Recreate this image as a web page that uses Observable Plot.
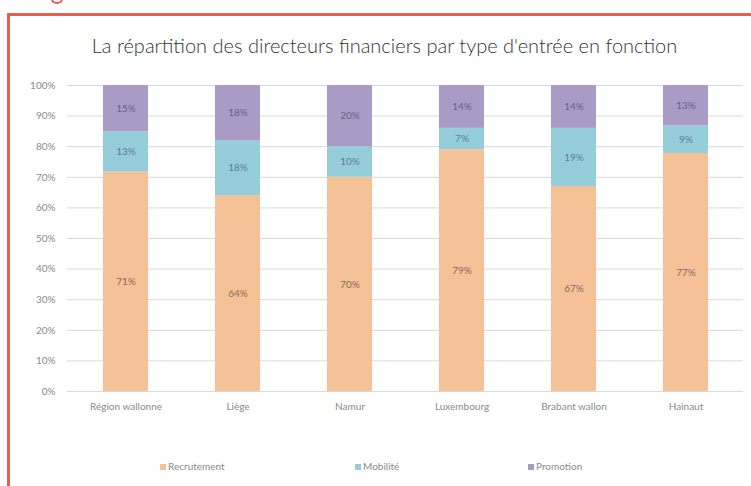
<!DOCTYPE html>
<html>
<head>
<meta charset="utf-8">
<script src="https://cdn.jsdelivr.net/npm/d3@7"></script>
<script src="https://cdn.jsdelivr.net/npm/@observablehq/plot@0.6"></script>
<style>
  html, body { margin: 0; padding: 0; background: #fff; }
  #wrap { position: relative; width: 751px; height: 486px; overflow: hidden; font-family: Lato, "Open Sans", sans-serif; }
  #frame { position: absolute; left: 7px; top: 13px; width: 760px; height: 490px; border-top: 3px solid #e8604c; border-left: 3px solid #e8604c; }
  #title { position: absolute; top: 33px; left: 0; width: 769px; text-align: center; font-size: 20px; font-weight: 300; color: #333; }
  #chart { position: absolute; left: 0; top: 0; }
  #legend { position: absolute; top: 460px; left: 0; width: 751px; font-size: 10px; color: #8a8a8a; }
  .item { position: absolute; white-space: nowrap; }
  .sw { display: inline-block; width: 6px; height: 6px; margin-right: 2px; vertical-align: 0px; }
  #redbit { position: absolute; left: 51px; top: -6px; width: 8px; height: 6px; border: 2px solid #e8604c; border-radius: 50%; border-top-color: transparent; }
</style>
</head>
<body>
<div id="wrap">
  <div id="redbit"></div>
  <div id="frame"></div>
  <div id="title">La répartition des directeurs financiers par type d'entrée en fonction</div>
  <div id="chart"></div>
  <div id="legend"></div>
</div>
<script>
const regions = ["Région wallonne", "Liège", "Namur", "Luxembourg", "Brabant wallon", "Hainaut"];
const series = ["Recrutement", "Mobilité", "Promotion"];
const recrutement = [71, 64, 70, 79, 67, 77];
const mobilite = [13, 18, 10, 7, 19, 9];
const promotion = [15, 18, 20, 14, 14, 13];
const colors = ["#f5c197", "#95cddb", "#a99bc5"];
const labelColors = ["#8a6a55", "#5a7f8c", "#6a5f7f"];
const yTicks = [0, 0.1, 0.2, 0.3, 0.4, 0.5, 0.6, 0.7, 0.8, 0.9, 1];

const valuesBySeries = [recrutement, mobilite, promotion];
const data = [];
series.forEach((s, si) => {
  regions.forEach((r, ri) => {
    data.push({region: r, series: s, value: valuesBySeries[si][ri]});
  });
});

const stackOpts = {x: "region", y: "value", z: "series", order: series, offset: "normalize"};

const plot = Plot.plot({
  width: 751,
  height: 430,
  marginTop: 85,
  marginBottom: 39,
  marginLeft: 67,
  marginRight: 8,
  style: {fontFamily: "Lato, 'Open Sans', sans-serif", background: "transparent", overflow: "visible"},
  x: {domain: regions, paddingInner: 0.6, paddingOuter: 0.3, label: null, tickSize: 0, tickPadding: 11},
  y: {domain: [0, 1], ticks: yTicks, tickFormat: d3.format(".0%"), label: null, tickSize: 0, tickPadding: 12},
  color: {domain: series, range: colors},
  marks: [
    Plot.gridY(yTicks, {stroke: "#d9d9d9", strokeOpacity: 1, strokeWidth: 1}),
    Plot.barY(data, Plot.stackY({...stackOpts, fill: "series"})),
    Plot.text(data, Plot.stackY({
      ...stackOpts,
      y: "value",
      text: d => d.value + "%",
      fill: d => labelColors[series.indexOf(d.series)],
      fontSize: 10
    })),
    Plot.axisX({tickSize: 0, tickPadding: 11, fontSize: 10, color: "#8a8a8a", label: null}),
    Plot.axisY({ticks: yTicks, tickFormat: d3.format(".0%"), tickSize: 0, tickPadding: 12, fontSize: 10, color: "#8a8a8a", label: null})
  ]
});
document.getElementById("chart").appendChild(plot);

// Legend built from the plot's color scale
const colorScale = plot.scale("color");
const legendX = [160, 355, 528];
const legend = document.getElementById("legend");
series.forEach((s, i) => {
  const item = document.createElement("span");
  item.className = "item";
  item.style.left = legendX[i] + "px";
  const sw = document.createElement("span");
  sw.className = "sw";
  sw.style.background = colorScale.apply(s);
  item.appendChild(sw);
  item.appendChild(document.createTextNode(s));
  legend.appendChild(item);
});
</script>
</body>
</html>
